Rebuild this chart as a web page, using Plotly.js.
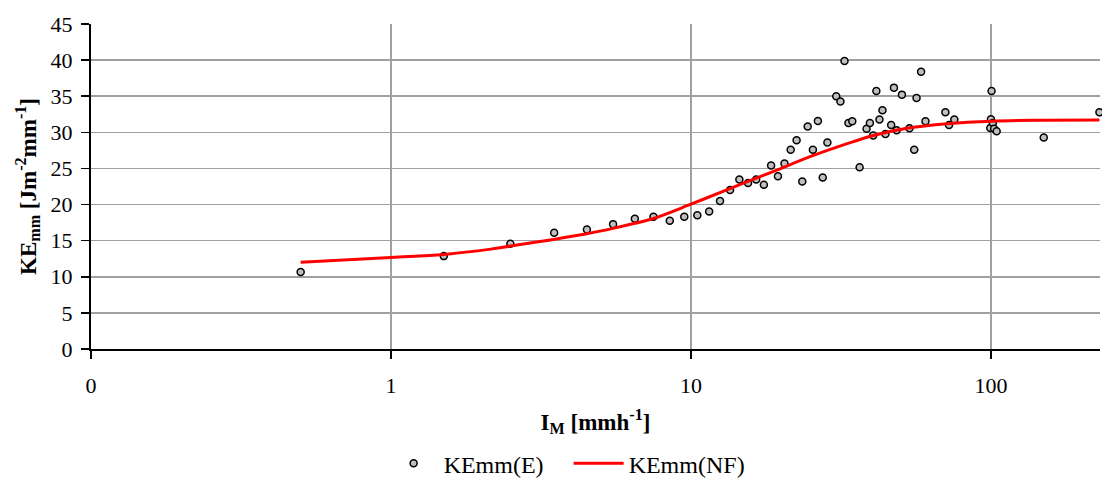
<!DOCTYPE html>
<html>
<head>
<meta charset="utf-8">
<script src="https://cdn.plot.ly/plotly-3.0.1.min.js"></script>
<style>html,body{margin:0;padding:0;background:#fff;}#chart{width:1102px;height:479px;}</style>
</head>
<body>
<div id="chart"></div>
<script>
// Measured points KEmm(E)
const measX = [0.5,1.5,2.5,3.5,4.5,5.5,6.5,7.5,8.5,9.5,10.5,11.5,12.5,13.5,14.5,15.5,16.5,17.5,18.5,19.5,20.5,21.5,22.5,23.5,24.5,25.5,26.5,27.5,28.5,30.5,31.5,32.5,33.5,34.5,36.5,38.5,39.5,40.5,41.5,42.5,43.5,44.5,46.5,47.5,48.5,50.5,53.5,55.5,56.5,58.5,60.5,70.5,72.5,75.5,99.5,100,100.5,101.5,102.5,104.5,150,230];
const measY = [10.65,12.86,14.57,16.09,16.55,17.29,18.03,18.3,17.75,18.3,18.53,19.04,20.5,22.0,23.47,23.0,23.47,22.73,25.4,23.93,25.68,27.6,28.9,23.2,30.8,27.6,31.58,23.74,28.58,35.0,34.26,39.88,31.3,31.54,25.17,30.5,31.3,29.55,35.73,31.77,33.06,29.78,31.03,36.19,30.29,35.22,30.57,27.6,34.76,38.4,31.54,32.78,31.03,31.77,30.6,31.8,35.73,31.3,30.5,30.15,29.3,32.78];
// Fitted curve KEmm(NF)
const fitX = [0.5,1,1.5,2.15,2.5,3.4,4.5,5.5,6.5,7.5,10,13.1,18.6,25.6,33,40,53,71.5,101,150,230];
const fitY = [12.0,12.68,13.1,13.83,14.25,15.1,15.95,16.7,17.4,18.07,20.05,22.0,24.5,26.8,28.4,29.5,30.6,31.2,31.55,31.67,31.7];
// Axis ticks
const xTickVals = [0.1,1,10,100];
const xTickText = ["0","1","10","100"];

const FONT = "Liberation Serif, Times New Roman, serif";

const traces = [
  {
    x: measX, y: measY, type: 'scatter', mode: 'markers', name: 'KEmm(E)',
    marker: {size: 7, color: '#bfbfbf', line: {color: '#000', width: 1.5}},
    cliponaxis: false
  },
  {
    x: fitX, y: fitY, type: 'scatter', mode: 'lines', name: 'KEmm(NF)',
    line: {color: '#ff0000', width: 3, shape: 'spline', smoothing: 1}
  }
];

const layout = {
  width: 1102, height: 479,
  margin: {l: 91, r: 2, t: 24, b: 130, autoexpand: false},
  paper_bgcolor: '#fff', plot_bgcolor: '#fff',
  font: {family: FONT, size: 21, color: '#000'},
  showlegend: true,
  legend: {orientation: 'h', x: 0.516, xanchor: 'center', xref: 'container',
           y: 0.032, yanchor: 'middle', yref: 'container',
           font: {family: FONT, size: 24, color: '#000'}, itemwidth: 50, tracegroupgap: 0,
           entrywidth: 120, entrywidthmode: 'pixels'},
  xaxis: {
    type: 'log', range: [-1, Math.log10(231)],
    tickvals: xTickVals, ticktext: xTickText,
    showgrid: true, gridcolor: '#a0a0a0', gridwidth: 1.5,
    showline: true, linecolor: '#000', linewidth: 2,
    ticks: 'outside', ticklen: 8, tickcolor: '#000', tickwidth: 1.5,
    ticklabelstandoff: 8,
    zeroline: false, automargin: false,
    tickfont: {family: FONT, size: 22},
    title: {text: '<b>I<sub>M</sub> [mmh<sup>-1</sup>]</b>', font: {family: FONT, size: 23}, standoff: 16}
  },
  yaxis: {
    range: [0, 45], dtick: 5, tick0: 0,
    showgrid: true, gridcolor: '#a0a0a0', gridwidth: 1.5,
    showline: true, linecolor: '#000', linewidth: 2,
    ticks: 'outside', ticklen: 8, tickcolor: '#000', tickwidth: 1.5,
    ticklabelstandoff: 4,
    zeroline: false, automargin: false,
    tickfont: {family: FONT, size: 22},
    title: {text: '<b>KE<sub>mm</sub> [Jm<sup>-2</sup>mm<sup>-1</sup>]</b>', font: {family: FONT, size: 23}, standoff: 8}
  }
};

Plotly.newPlot('chart', traces, layout, {displayModeBar: false, staticPlot: true});
</script>
</body>
</html>
